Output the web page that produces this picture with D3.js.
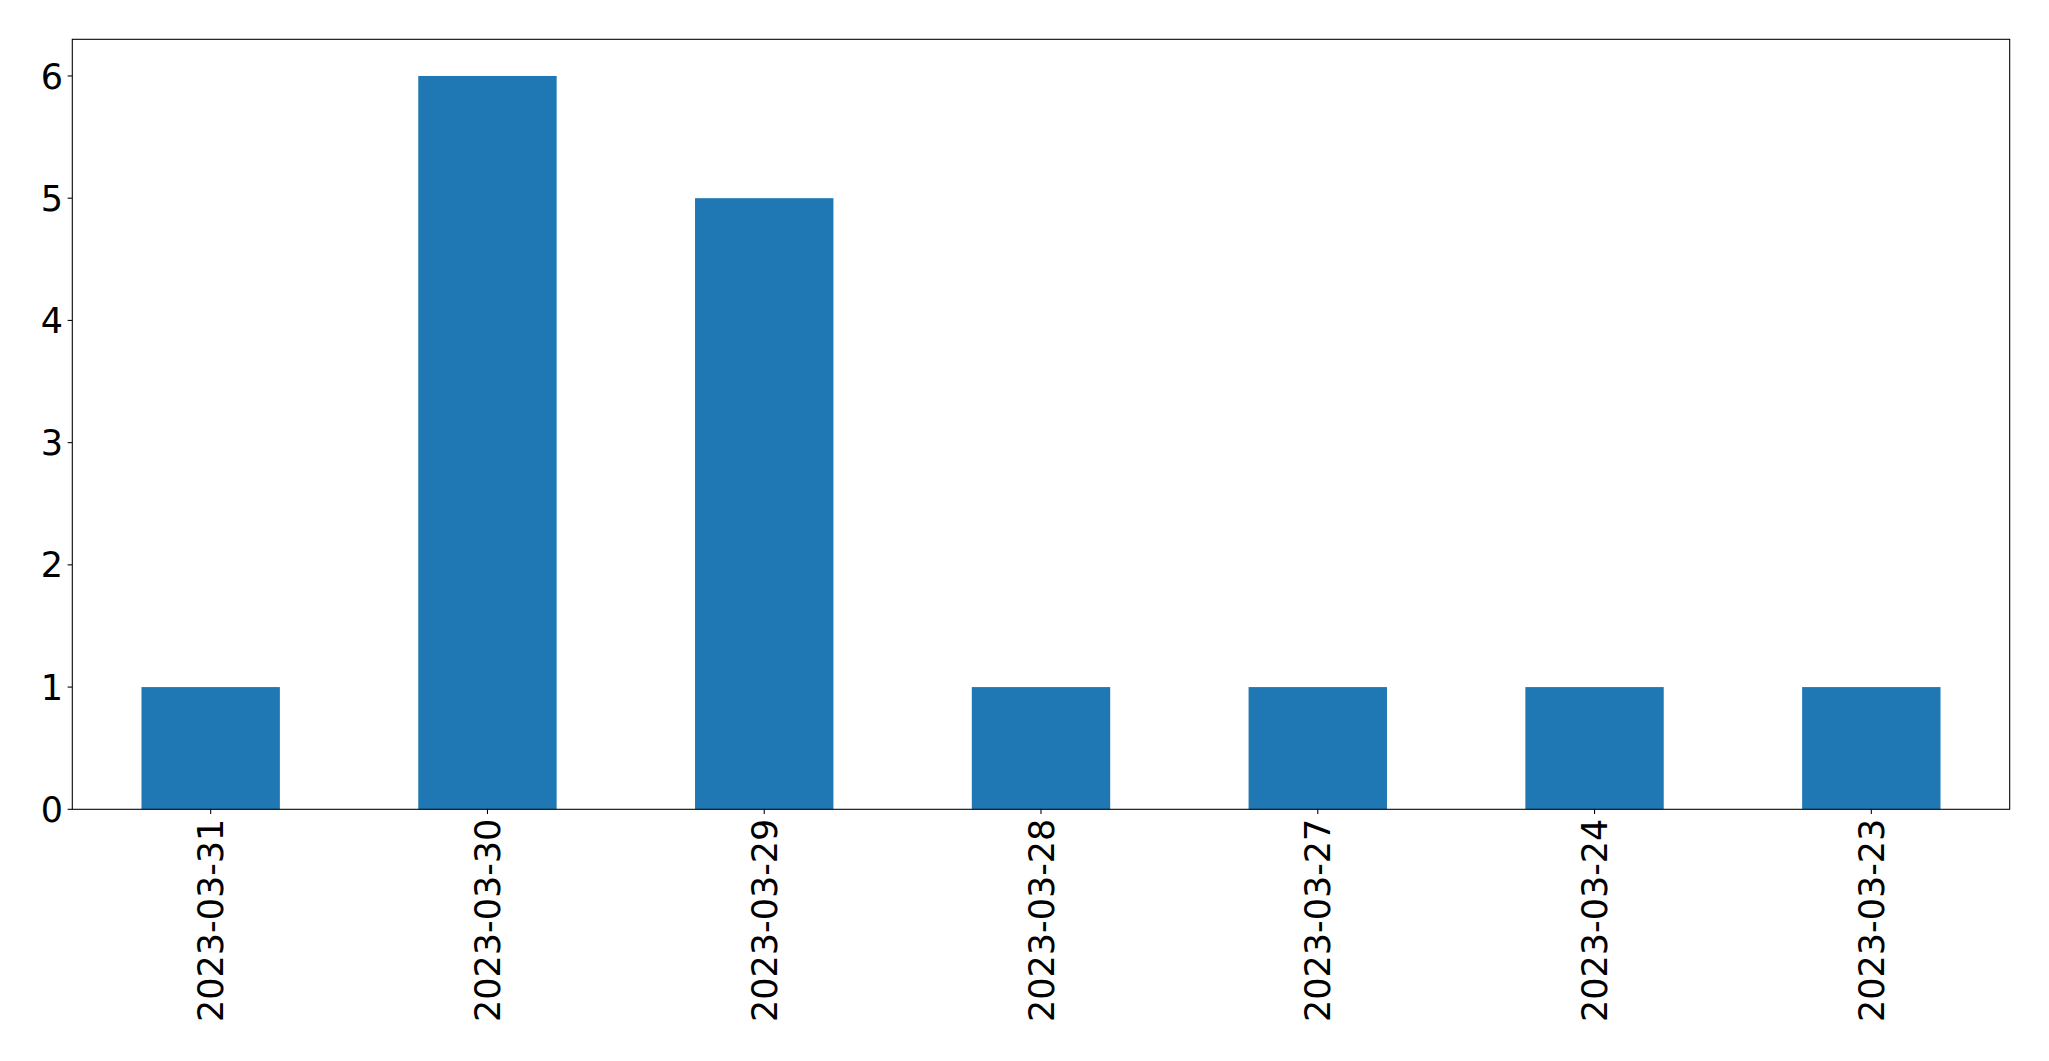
<!DOCTYPE html>
<html><head><meta charset="utf-8">
<script src="https://cdn.jsdelivr.net/npm/d3@7"></script>
<style>body{margin:0;background:#fff}svg{display:block}</style>
</head><body>
<script>
const categories = ["2023-03-31","2023-03-30","2023-03-29","2023-03-28","2023-03-27","2023-03-24","2023-03-23"];
const values = [1, 6, 5, 1, 1, 1, 1];
const yTicks = [0, 1, 2, 3, 4, 5, 6];

(function () {
const W = 2049, H = 1061;
const mLeft = 72.3, mRight = 2009.7, mTop = 39.3, mBottom = 809.3;
const svg = d3.select("body").append("svg").attr("width", W).attr("height", H);

const x = d3.scaleLinear().domain([-0.5, categories.length - 0.5]).range([mLeft, mRight]);
const y = d3.scaleLinear().domain([0, 6.3]).range([mBottom, mTop]);
const barW = 0.5;

svg.append("g").selectAll("rect").data(values).join("rect")
  .attr("x", (d, i) => x(i - barW / 2))
  .attr("width", (d, i) => x(i + barW / 2) - x(i - barW / 2))
  .attr("y", d => y(d))
  .attr("height", d => y(0) - y(d))
  .attr("fill", "#1f77b4");

const font = "DejaVu Sans";
const fs = 35;
const tickLen = 4.67, pad = 4.67;

// y axis
const ya = svg.append("g");
ya.selectAll("line").data(yTicks).join("line")
  .attr("x1", mLeft - tickLen).attr("x2", mLeft)
  .attr("y1", d => y(d)).attr("y2", d => y(d))
  .attr("stroke", "#000").attr("stroke-width", 1.07);
ya.selectAll("text").data(yTicks).join("text")
  .attr("x", mLeft - tickLen - pad).attr("y", d => y(d))
  .attr("dy", "0.36em").attr("text-anchor", "end")
  .attr("font-family", font).attr("font-size", fs).attr("fill", "#000")
  .text(d => d);

// x axis
const xa = svg.append("g");
xa.selectAll("line").data(categories).join("line")
  .attr("x1", (d, i) => x(i)).attr("x2", (d, i) => x(i))
  .attr("y1", mBottom).attr("y2", mBottom + tickLen)
  .attr("stroke", "#000").attr("stroke-width", 1.07);
xa.selectAll("text").data(categories).join("text")
  .attr("transform", (d, i) => `translate(${x(i)},${mBottom + tickLen + pad}) rotate(-90)`)
  .attr("dy", "0.36em").attr("text-anchor", "end")
  .attr("font-family", font).attr("font-size", fs).attr("fill", "#000")
  .text(d => d);

// frame
svg.append("rect").attr("x", mLeft).attr("y", mTop)
  .attr("width", mRight - mLeft).attr("height", mBottom - mTop)
  .attr("fill", "none").attr("stroke", "#000").attr("stroke-width", 1.07);
})();
</script>
</body></html>
